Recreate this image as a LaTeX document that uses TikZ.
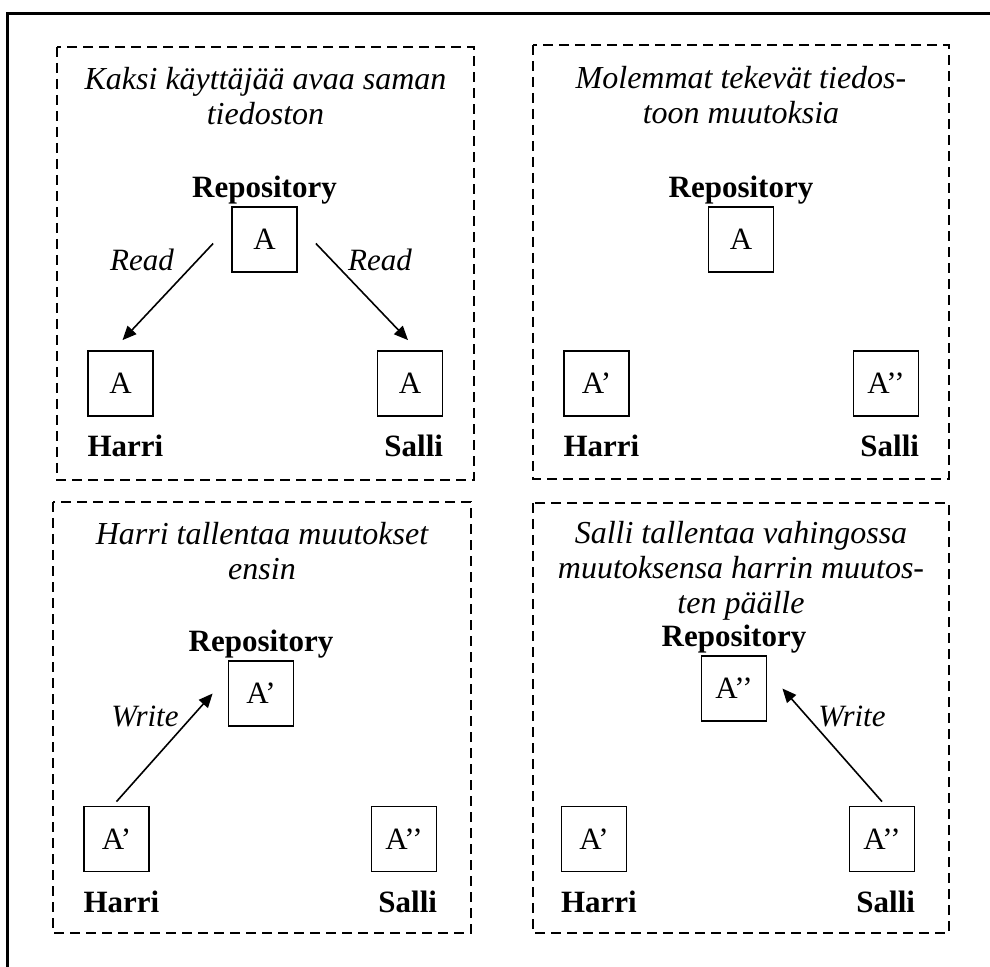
\documentclass[tikz,border=0pt]{standalone}
\usepackage{fontspec}
\setmainfont{Liberation Serif}
\usetikzlibrary{arrows.meta,
                positioning}
\tikzset{
        panel/.style={draw, dash pattern=on 5pt off 3pt, line width=1pt},
        box/.style={draw, line width=0.9pt, minimum size=32.5pt, inner sep=0pt,
                    font=\fontsize{15.5}{17.5}\selectfont},
        title/.style={align=center, inner sep=0pt,
                      font=\fontsize{16}{17.5}\selectfont\itshape},
        repo/.style={inner sep=0pt, font=\fontsize{15.5}{17.5}\selectfont\bfseries},
        who/.style={repo},
        act/.style={inner sep=0pt, font=\fontsize{15.5}{17.5}\selectfont\itshape},
        myarrow/.style={-{Triangle[length=7pt, width=6pt]}, line width=0.8pt},
 }
\begin{document}
\begin{tikzpicture}[x=0.5pt, y=-0.5pt]
    \useasboundingbox (0,0) rectangle (990,967);
    \draw[line width=1.5pt] (7,990) -- (7,14) -- (1000,14);

    % panel 1
    \draw[panel] (57,47) rectangle (474,480);
    \node[title, anchor=north] (t1) at (265.5,67) {Kaksi käyttäjää avaa saman\\tiedoston};
    \node[box] (r1) at (264.5,239.5) {A};
    \node[repo, above=1pt of r1] (rl1) {Repository};
    \node[box] (h1) at (120.5,383.5) {A};
    \node[box] (s1) at (410,383.5) {A};
    \node[who, below right=9pt and 0pt of h1.south west] (hl1) {Harri};
    \node[who, below left=9pt and 0pt of s1.south east] (sl1) {Salli};
    \draw[myarrow] ([xshift=-9pt, yshift=-2pt]r1.west) -- ([xshift=1pt, yshift=5pt]h1.north);
    \draw[myarrow] ([xshift=9pt, yshift=-2pt]r1.east) -- ([xshift=-1pt, yshift=5pt]s1.north);
    \node[act, anchor=base] (rd1) at (142,271) {Read};
    \node[act, anchor=base] (rd2) at (380,271) {Read};

    % panel 2
    \draw[panel] (533,45) rectangle (949,479);
    \node[title, anchor=north] (t2) at (741,66) {Molemmat tekevät tiedos-\\toon muutoksia};
    \node[box] (r2) at (741,239.5) {A};
    \node[repo, above=1pt of r2] (rl2) {Repository};
    \node[box] (h2) at (596.5,383.5) {A’};
    \node[box] (s2) at (886,383.5) {A’’};
    \node[who, below right=9pt and 0pt of h2.south west] (hl2) {Harri};
    \node[who, below left=9pt and 0pt of s2.south east] (sl2) {Salli};

    % panel 3
    \draw[panel] (53,502) rectangle (471,933);
    \node[title, anchor=north] (t3) at (262,522) {Harri tallentaa muutokset\\ensin};
    \node[box] (r3) at (261,693.5) {A’};
    \node[repo, above=1pt of r3] (rl3) {Repository};
    \node[box] (h3) at (116.5,839) {A’};
    \node[box] (s3) at (404,839) {A’’};
    \node[who, below right=9pt and 0pt of h3.south west] (hl3) {Harri};
    \node[who, below left=9pt and 0pt of s3.south east] (sl3) {Salli};
    \draw[myarrow] ([yshift=2pt]h3.north) -- ([xshift=-7.5pt]r3.west);
    \node[act, anchor=base] (wr1) at (145,726) {Write};

    % panel 4
    \draw[panel] (533,503) rectangle (949,933);
    \node[title, anchor=north] (t4) at (741,521)
         {Salli tallentaa vahingossa\\muutoksensa harrin muutos-\\ten päälle};
    \node[box] (r4) at (734,688.5) {A’’};
    \node[repo, above=1pt of r4] (rl4) {Repository};
    \node[box] (h4) at (594,839) {A’};
    \node[box] (s4) at (882,839) {A’’};
    \node[who, below right=9pt and 0pt of h4.south west] (hl4) {Harri};
    \node[who, below left=9pt and 0pt of s4.south east] (sl4) {Salli};
    \draw[myarrow] ([yshift=2pt]s4.north) -- ([xshift=7.5pt]r4.east);
    \node[act, anchor=base] (wr2) at (852,726) {Write};
\end{tikzpicture}
\end{document}
